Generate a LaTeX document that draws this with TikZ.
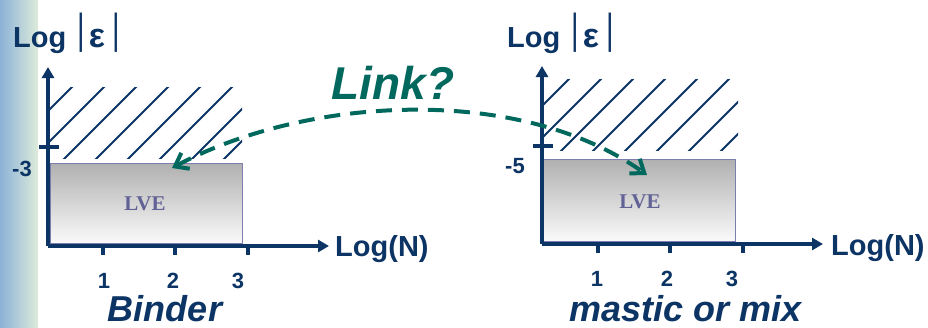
\documentclass[tikz,border=0pt]{standalone}
\usepackage{fontspec}
\setmainfont{Liberation Sans}
\newfontfamily\lvefont{Liberation Serif}
\usetikzlibrary{arrows.meta,calc}
\definecolor{navy}{RGB}{12,52,100}
\definecolor{linkteal}{RGB}{0,104,92}
\definecolor{lvetext}{RGB}{98,98,150}
\definecolor{lveedge}{RGB}{125,125,175}
\definecolor{stripblue}{RGB}{140,178,216}
\definecolor{stripgreen}{RGB}{221,235,218}
\newcommand{\absbar}{\raisebox{4pt}{\scalebox{1}[1.45]{\mdseries|}}}
\newcommand{\epslabel}{\textbf{Log}\hspace{11pt}\absbar\hspace{4pt}{\fontsize{34}{36}\selectfont\bfseries ε}\hspace{7pt}\absbar}
\tikzset{
  axis/.style={navy,line width=3.5pt,-{Triangle[length=11pt,width=12pt]}},
  tickmark/.style={navy,line width=4pt},
  hatch/.style={navy,line width=2pt},
  ticklabel/.style={navy,inner sep=0pt,font=\fontsize{22}{23}\selectfont\bfseries},
  axislabel/.style={navy,inner sep=0pt,anchor=base west,font=\fontsize{29}{32}\selectfont},
  lvebox/.style={draw=lveedge,line width=1pt,top color=black!31,bottom color=black!2},
  lvelabel/.style={lvetext,font=\fontsize{21}{22}\selectfont\lvefont\bfseries},
  material/.style={navy,inner sep=0pt,anchor=base,font=\fontsize{36}{38}\selectfont\bfseries\itshape},
  linkarrow/.style={linkteal,line width=4pt,dash pattern=on 16pt off 10pt,
    {Straight Barb[length=12pt,width=18pt]}-{Straight Barb[length=12pt,width=18pt]}}
}
\begin{document}
\begin{tikzpicture}[x=1pt,y=-1pt]
  \useasboundingbox[fill=white] (0,0) rectangle (928,327);
  \shade[left color=stripblue,right color=stripgreen] (0,0) rectangle (38,327);
  % binder
  \begin{scope}
    \coordinate (O1) at (48,246);
    \draw[lvebox] (50,163) rectangle (242,243);
    \node[lvelabel] (lve1) at (145,204) {LVE};
    \begin{scope}
      \clip (49,87) rectangle (242,158);
      \foreach \c in {159,191,...,383}
        \draw[hatch] (\c-170,170) -- (\c-70,70);
    \end{scope}
    \draw[axis] (O1) -- (48,67);
    \draw[axis] (O1) -- (329,246);
    \foreach \x/\lx/\t in {103/104/1,175/173/2,248/238/3}{
      \draw[tickmark] (\x,246) -- (\x,255);
      \node[ticklabel] (t1\t) at (\lx,281) {\t};
    }
    \draw[tickmark] (39,147) -- (59,147);
    \node[ticklabel] (ymin1) at (22,169) {-3};
    \node[axislabel] (ylab1) at (13,47) {\epslabel};
    \node[axislabel] (xlab1) at (335,256) {\textbf{Log(N)}};
    \node[material] (binder) at (165,321) {Binder};
  \end{scope}
  % mastic or mix
  \begin{scope}
    \coordinate (O2) at (542,244);
    \draw[lvebox] (543,159) rectangle (735,241);
    \node[lvelabel] (lve2) at (640,202) {LVE};
    \begin{scope}
      \clip (543,79) rectangle (738,150);
      \foreach \c in {648,680,...,872}
        \draw[hatch] (\c-170,170) -- (\c-60,60);
    \end{scope}
    \draw[axis] (O2) -- (542,66);
    \draw[axis] (O2) -- (823,244);
    \foreach \x/\lx/\t in {598/597/1,670/667/2,743/732/3}{
      \draw[tickmark] (\x,244) -- (\x,253);
      \node[ticklabel] (t2\t) at (\lx,279) {\t};
    }
    \draw[tickmark] (533,146) -- (553,146);
    \node[ticklabel] (ymin2) at (515,166) {-5};
    \node[axislabel] (ylab2) at (507,47) {\epslabel};
    \node[axislabel] (xlab2) at (831,255) {\textbf{Log(N)}};
    \node[material] (mastic) at (686,321) {mastic or mix};
  \end{scope}
  % link
  \coordinate (linkL) at (172,168);
  \coordinate (linkR) at (647,175);
  \draw[linkarrow] (linkL) .. controls (309,95) and (521,85) .. (linkR);
  \node[material,text=linkteal,font=\fontsize{46}{48}\selectfont\bfseries\itshape] (link) at (393,99) {Link?};
\end{tikzpicture}
\end{document}
